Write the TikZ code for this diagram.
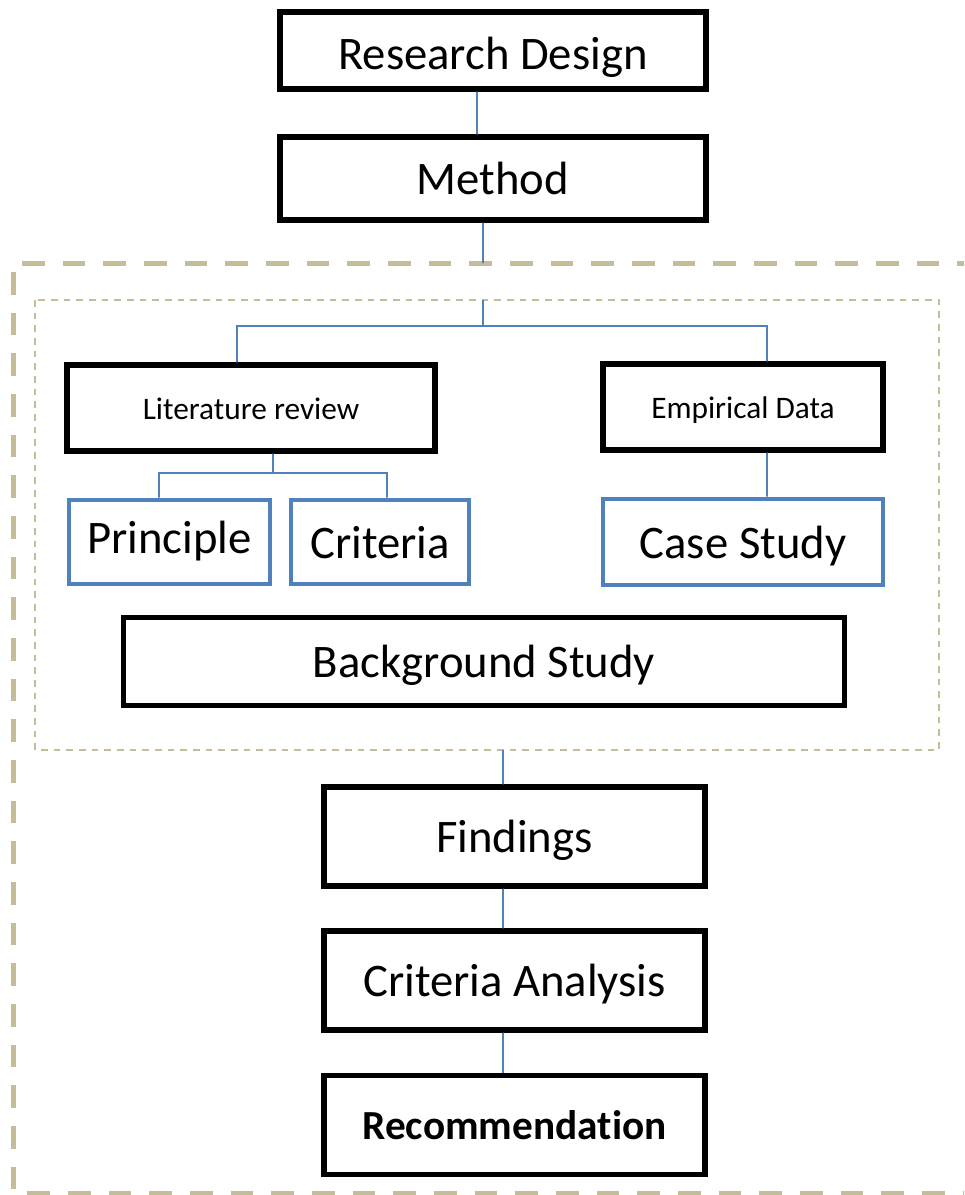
\documentclass[tikz,border=0pt]{standalone}
\usepackage{fontspec}
\setmainfont{Carlito}[Ligatures=NoCommon]
\usetikzlibrary{positioning}
\definecolor{linkblue}{HTML}{4F81BD}
\definecolor{frametan}{HTML}{C4BD97}
\tikzstyle{block}=[rectangle, draw, line width=3.8pt, inner sep=0pt, text depth=0pt, text height=24.5pt, font=\fontsize{35}{42}\selectfont]
\tikzstyle{subblock}=[block, draw=linkblue, line width=3.7pt]
\tikzstyle{smallblock}=[block, text height=16.5pt, font=\fontsize{23.5}{28}\selectfont]
\tikzstyle{link}=[draw=linkblue, line width=1.3pt]
\tikzstyle{outerframe}=[draw=frametan, line width=3.75pt, dash pattern=on 17pt off 13.5pt]
\tikzstyle{innerframe}=[draw=frametan, line width=1.3pt, dash pattern=on 5pt off 4.5pt]
\newcommand{\block}{\node[block]}

\begin{document}
\begin{tikzpicture}[x=0.75pt, y=-0.75pt]
                    \useasboundingbox (0,0) rectangle (964,1195);
                    \clip (0,0) rectangle (964,1195);
                    \draw[outerframe] (980,263) -- (13,263) -- (13,1193) -- (980,1193);
                    \draw[innerframe] (35,300) rectangle (939,750);
                    \block (design) at (493,50.5) [minimum width=319.5pt, minimum height=57.75pt]{\raisebox{-2pt}{Research Design}};
                    \block (method) at (493,178.5) [minimum width=319.5pt, minimum height=62.25pt]{Method};
                    \node[smallblock] (litrev) at (251,408) [minimum width=276pt, minimum height=64.5pt]{Literature review};
                    \node[smallblock] (empdata) at (743,407) [minimum width=210pt, minimum height=64.5pt]{Empirical Data};
                    \node[subblock] (principle) at (169.5,542) [minimum width=150.75pt, minimum height=63pt]{\raisebox{4pt}{Principle}};
                    \node[subblock] (criteria) at (380,542) [minimum width=133.5pt, minimum height=63pt]{Criteria};
                    \node[subblock] (casestudy) at (743,542) [minimum width=210pt, minimum height=64.5pt]{Case Study};
                    \block (background) at (484,661.5) [minimum width=540.75pt, minimum height=66pt]{Background Study};
                    \block (findings) at (514.5,836.5) [minimum width=285.75pt, minimum height=74.25pt]{Findings};
                    \block (analysis) at (514.5,980.5) [minimum width=285.75pt, minimum height=74.25pt]{Criteria Analysis};
                    \block (recommend) at (514.5,1125) [minimum width=285.75pt, minimum height=74.25pt, text height=21.7pt, font=\fontsize{31}{37}\selectfont\bfseries]{Recommendation};
                    \coordinate (frametop) at (483,263);
                    \coordinate (boxtop) at (483,300);
                    \coordinate (split) at (483,326);
                    \coordinate (litsplit) at (273,473);
                    \coordinate (boxbottom) at (503,750);
                    \path[link]
                        ([xshift=-12pt]design.south) -- ([xshift=-12pt]method.north)
                        ([xshift=-7.5pt]method.south) -- (frametop)
                        (boxtop) -- (split)
                        (split) -| ([xshift=-10.5pt]litrev.north)
                        (split) -| ([xshift=18pt]empdata.north)
                        ([xshift=16.5pt]litrev.south) -- (litsplit)
                        (litsplit) -| ([xshift=-7.9pt]principle.north)
                        (litsplit) -| ([xshift=5.25pt]criteria.north)
                        ([xshift=18pt]empdata.south) -- ([xshift=18pt]casestudy.north)
                        (boxbottom) -- ([xshift=-8.6pt]findings.north)
                        ([xshift=-8.6pt]findings.south) -- ([xshift=-8.6pt]analysis.north)
                        ([xshift=-8.6pt]analysis.south) -- ([xshift=-8.6pt]recommend.north)
                    ;
                \end{tikzpicture}
\end{document}
